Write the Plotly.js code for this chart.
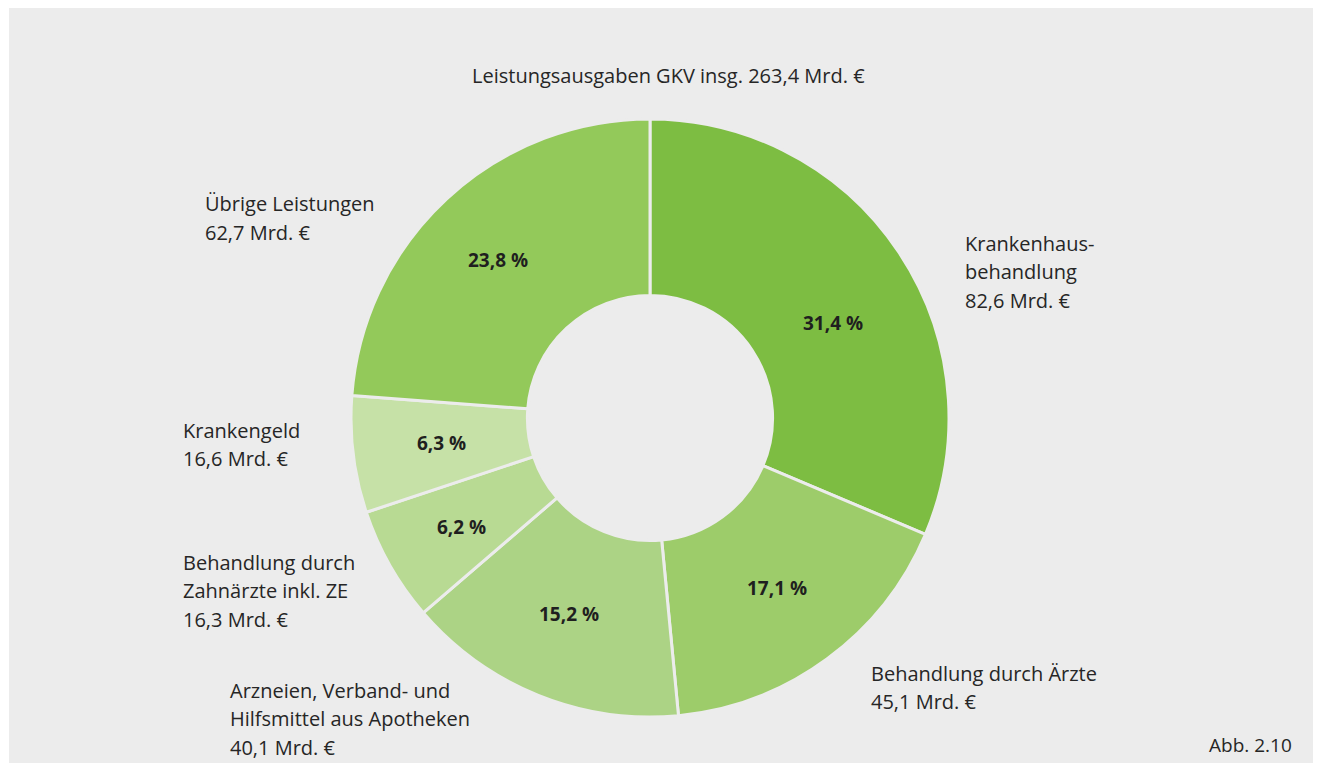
<!DOCTYPE html>
<html>
<head>
<meta charset="utf-8">
<script src="https://cdn.plot.ly/plotly-3.0.1.min.js"></script>
<style>html,body{margin:0;padding:0;background:#fff;}#chart{width:1322px;height:771px;}</style>
</head>
<body>
<div id="chart"></div>
<script>
// Data (values in Mrd. €)
const categories = ["Krankenhausbehandlung", "Behandlung durch Ärzte", "Arzneien, Verband- und Hilfsmittel aus Apotheken", "Behandlung durch Zahnärzte inkl. ZE", "Krankengeld", "Übrige Leistungen"];
const values = [82.6, 45.1, 40.1, 16.3, 16.6, 62.7];
const pctLabels = ["31,4 %", "17,1 %", "15,2 %", "6,2 %", "6,3 %", "23,8 %"];
const amountLabels = ["82,6 Mrd. €", "45,1 Mrd. €", "40,1 Mrd. €", "16,3 Mrd. €", "16,6 Mrd. €", "62,7 Mrd. €"];
const nameLines = [["Krankenhaus-", "behandlung"], ["Behandlung durch Ärzte"], ["Arzneien, Verband- und", "Hilfsmittel aus Apotheken"], ["Behandlung durch", "Zahnärzte inkl. ZE"], ["Krankengeld"], ["Übrige Leistungen"]];
const colors = ["#7dbd42", "#9dcc6a", "#acd385", "#b8da93", "#c6e1a7", "#93c95a"];
const titleText = "Leistungsausgaben GKV insg. 263,4 Mrd. €";
const figLabel = "Abb. 2.10";

const W = 1322, H = 771;
const FONT = "Open Sans, Noto Sans, sans-serif";
const TXT = "#262626";
const BG = "#ececec";

// label anchor positions in pixels (left x, center y of first line)
const labelPos = [[963, 243], [869, 673], [228, 690], [181, 562], [181, 430], [203, 204]];
const pctPos = [[833, 323], [777, 588], [569, 614], [462, 527], [441, 443], [498, 260]];
const lineGap = 28.7;

const annotations = [];
categories.forEach((c, i) => {
  const lines = nameLines[i].concat([amountLabels[i]]);
  lines.forEach((t, k) => {
    annotations.push({
      xref: "paper", yref: "paper",
      x: labelPos[i][0] / W, y: 1 - (labelPos[i][1] + k * lineGap) / H,
      xanchor: "left", yanchor: "middle",
      text: t, showarrow: false,
      font: {family: FONT, size: 20, color: TXT}
    });
  });
  annotations.push({
    xref: "paper", yref: "paper",
    x: pctPos[i][0] / W, y: 1 - pctPos[i][1] / H,
    xanchor: "center", yanchor: "middle",
    text: "<b>" + pctLabels[i] + "</b>", showarrow: false,
    font: {family: FONT, size: 19, color: "#1f1f1f"}
  });
});
annotations.push({xref: "paper", yref: "paper", x: 668 / W, y: 1 - 76 / H, xanchor: "center", yanchor: "middle",
  text: titleText, showarrow: false, font: {family: FONT, size: 20, color: TXT}});
annotations.push({xref: "paper", yref: "paper", x: 1294 / W, y: 1 - 745 / H, xanchor: "right", yanchor: "middle",
  text: figLabel, showarrow: false, font: {family: FONT, size: 19, color: TXT}});

const cx = 650, cy = 418, r = 299;
const trace = {
  type: "pie",
  labels: categories,
  values: values,
  sort: false,
  direction: "clockwise",
  rotation: 0,
  hole: 0.41,
  textinfo: "none",
  marker: {colors: colors, line: {color: BG, width: 3}},
  hoverinfo: "label+value+percent",
  showlegend: false,
  domain: {x: [(cx - r) / W, (cx + r) / W], y: [1 - (cy + r) / H, 1 - (cy - r) / H]}
};

const layout = {
  width: W, height: H,
  margin: {l: 0, r: 0, t: 0, b: 0},
  paper_bgcolor: "#ffffff",
  showlegend: false,
  separators: ",.",
  font: {family: FONT, color: TXT},
  shapes: [{type: "rect", xref: "paper", yref: "paper", x0: 9 / W, x1: 1313 / W, y0: 1 - 763 / H, y1: 1 - 8 / H,
    fillcolor: BG, line: {width: 0}, layer: "below"}],
  annotations: annotations
};

Plotly.newPlot("chart", [trace], layout, {displayModeBar: false, staticPlot: true});
</script>
</body>
</html>
